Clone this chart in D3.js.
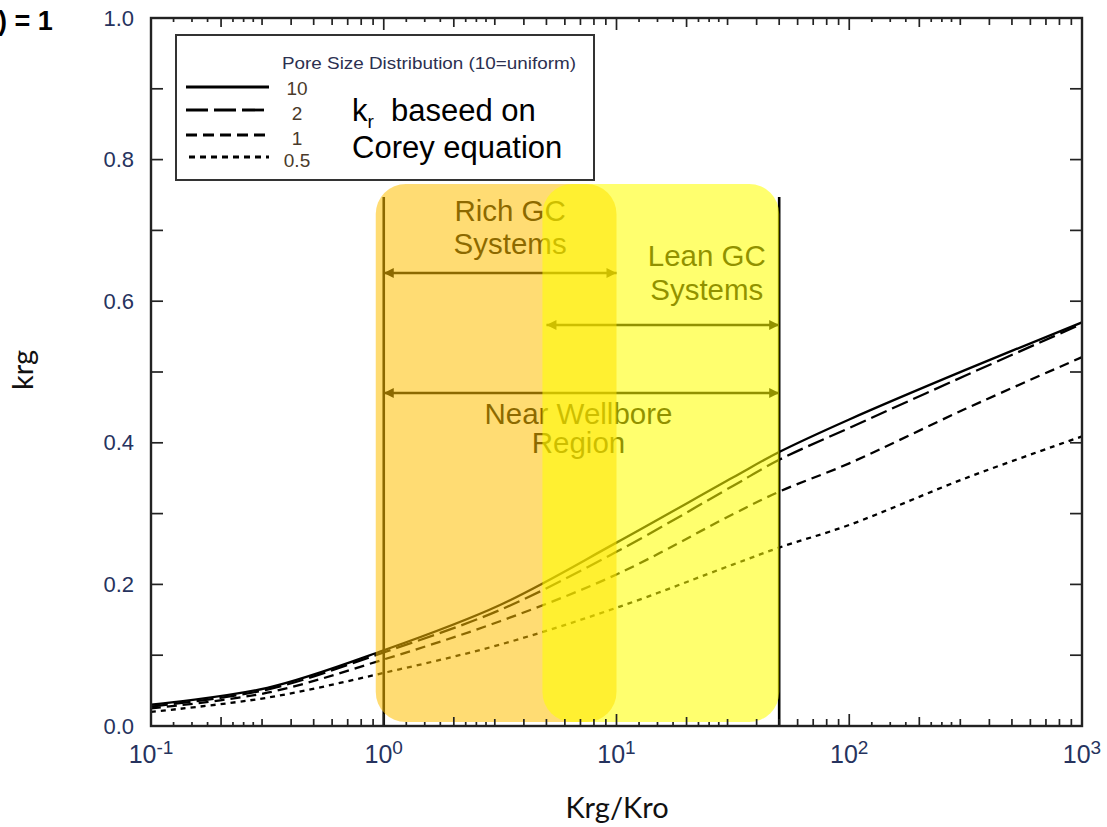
<!DOCTYPE html>
<html>
<head>
<meta charset="utf-8">
<script src="https://cdn.jsdelivr.net/npm/d3@7"></script>
<style>
  html, body { margin: 0; padding: 0; background: #fff; }
  svg { display: block; }
</style>
</head>
<body>
<svg id="chart" width="1107" height="827"></svg>
<script>
// ---- data ----
const ratio = [0.1, 0.316, 1, 3.16, 10, 31.6, 50, 100, 316, 1000];
const krgPsd10 = [0.030, 0.054, 0.107, 0.171, 0.259, 0.351, 0.387, 0.433, 0.503, 0.570];
const krgPsd2 = [0.0275, 0.0515, 0.104, 0.164, 0.246, 0.339, 0.376, 0.421, 0.495, 0.568];
const krgPsd1 = [0.025, 0.047, 0.094, 0.148, 0.214, 0.299, 0.331, 0.371, 0.448, 0.521];
const krgPsd05 = [0.020, 0.040, 0.075, 0.115, 0.167, 0.228, 0.252, 0.284, 0.350, 0.409];
const seriesNames = ["10", "2", "1", "0.5"];
const xTickExponents = [-1, 0, 1, 2, 3];
const yTickLabels = [0.0, 0.2, 0.4, 0.6, 0.8, 1.0];
const richRange = [1, 10];
const leanRange = [5, 50];
const nearRange = [1, 50];

const svg = d3.select("#chart");
const L = 151, R = 1082, T = 18, B = 726;
const x = d3.scaleLog().domain([0.1, 1000]).range([L, R]);
const y = d3.scaleLinear().domain([0, 1]).range([B, T]);

const series = [
  { name: seriesNames[0], values: krgPsd10, dash: null, legDash: null },
  { name: seriesNames[1], values: krgPsd2, dash: "17,6", legDash: "22,6" },
  { name: seriesNames[2], values: krgPsd1, dash: "10,6", legDash: "11,6" },
  { name: seriesNames[3], values: krgPsd05, dash: "5,5", legDash: "6,5" }
];

// ---- curves ----
const line = d3.line()
  .x(d => x(d[0]))
  .y(d => y(d[1]))
  .curve(d3.curveCatmullRom.alpha(0.5));

const gCurves = svg.append("g");
series.forEach(s => {
  gCurves.append("path")
    .datum(ratio.map((r, i) => [r, s.values[i]]))
    .attr("d", line)
    .attr("fill", "none")
    .attr("stroke", "#000")
    .attr("stroke-width", 2.3)
    .attr("stroke-dasharray", s.dash);
});

// ---- region annotations (drawn in black, tinted by the boxes above) ----
const defs = svg.append("defs");
defs.append("marker")
  .attr("id", "head")
  .attr("viewBox", "0 0 10 10")
  .attr("refX", 10).attr("refY", 5)
  .attr("markerWidth", 13).attr("markerHeight", 10)
  .attr("markerUnits", "userSpaceOnUse")
  .attr("orient", "auto-start-reverse")
  .append("path").attr("d", "M0,0 L10,5 L0,10 Z").attr("fill", "#000");

const gAnn = svg.append("g");
[nearRange[0], nearRange[1]].forEach(v => {
  gAnn.append("line")
    .attr("x1", x(v)).attr("x2", x(v))
    .attr("y1", 197).attr("y2", B)
    .attr("stroke", "#000").attr("stroke-width", 2.6);
});

function arrow(range, yy) {
  gAnn.append("line")
    .attr("x1", x(range[0])).attr("x2", x(range[1]))
    .attr("y1", yy).attr("y2", yy)
    .attr("stroke", "#000").attr("stroke-width", 2.6)
    .attr("marker-start", "url(#head)")
    .attr("marker-end", "url(#head)");
}
arrow(richRange, 273);
arrow(leanRange, 325);
arrow(nearRange, 393);

const annFont = "Liberation Sans, Arial, sans-serif";
function label(lines, cx, y0, dy) {
  lines.forEach((t, i) => {
    gAnn.append("text")
      .attr("x", cx).attr("y", y0 + i * dy)
      .attr("text-anchor", "middle")
      .attr("font-family", annFont)
      .attr("font-size", 29.5)
      .attr("fill", "#000")
      .text(t);
  });
}
const midLog = r => Math.sqrt(r[0] * r[1]);
label(["Rich GC", "Systems"], x(midLog(richRange)) + 10, 221, 33);
label(["Lean GC", "Systems"], x(midLog(leanRange)) + 44, 266, 34);
label(["Near Wellbore", "Region"], x(midLog(nearRange)) - 3, 424, 29);

// ---- translucent region boxes ----
const boxTop = 184, boxBottom = 722, boxR = 30;
svg.append("rect")
  .attr("x", x(richRange[0]) - 8).attr("y", boxTop)
  .attr("width", x(richRange[1]) - x(richRange[0]) + 8)
  .attr("height", boxBottom - boxTop)
  .attr("rx", boxR).attr("ry", boxR)
  .attr("fill", "#FFC000").attr("fill-opacity", 0.55);
svg.append("rect")
  .attr("x", x(leanRange[0]) - 4).attr("y", boxTop)
  .attr("width", x(leanRange[1]) - x(leanRange[0]) + 4)
  .attr("height", boxBottom - boxTop)
  .attr("rx", boxR).attr("ry", boxR)
  .attr("fill", "#FFFF00").attr("fill-opacity", 0.57);

// ---- axes frame and ticks ----
const gAx = svg.append("g");
gAx.append("rect")
  .attr("x", L).attr("y", T).attr("width", R - L).attr("height", B - T)
  .attr("fill", "none").attr("stroke", "#222").attr("stroke-width", 2.4);

// log ticks: decades long, integer multiples medium, quarter steps short
const xTicks = [];
for (let e = -1; e < 3; e++) {
  const base = Math.pow(10, e);
  xTicks.push({ v: base, len: 12 });
  [1.25, 1.5, 1.75, 2.25, 2.5, 2.75].forEach(k => xTicks.push({ v: k * base, len: 4 }));
  for (let k = 2; k <= 9; k++) xTicks.push({ v: k * base, len: k === 2 ? 9 : 7 });
}
xTicks.forEach(t => {
  const px = x(t.v);
  gAx.append("line").attr("x1", px).attr("x2", px)
    .attr("y1", B).attr("y2", B - t.len)
    .attr("stroke", "#222").attr("stroke-width", 1.7);
  gAx.append("line").attr("x1", px).attr("x2", px)
    .attr("y1", T).attr("y2", T + t.len)
    .attr("stroke", "#222").attr("stroke-width", 1.7);
});
d3.range(1, 10).forEach(i => {
  const py = y(i / 10);
  gAx.append("line").attr("x1", L).attr("x2", L + 12)
    .attr("y1", py).attr("y2", py).attr("stroke", "#222").attr("stroke-width", 1.7);
  gAx.append("line").attr("x1", R).attr("x2", R - 12)
    .attr("y1", py).attr("y2", py).attr("stroke", "#222").attr("stroke-width", 1.7);
});

const tickColor = "#26335e";
const tickFont = "Liberation Sans, Arial, sans-serif";
yTickLabels.forEach(v => {
  gAx.append("text")
    .attr("x", 134).attr("y", y(v) + 7.5)
    .attr("text-anchor", "end")
    .attr("font-family", tickFont).attr("font-size", 22)
    .attr("fill", tickColor)
    .text(v.toFixed(1));
});
xTickExponents.forEach(e => {
  const t = gAx.append("text")
    .attr("x", x(Math.pow(10, e))).attr("y", 763)
    .attr("text-anchor", "middle")
    .attr("font-family", tickFont).attr("font-size", 25)
    .attr("fill", tickColor);
  t.append("tspan").text("10");
  t.append("tspan").attr("dy", -9).attr("font-size", 19).text(e);
});

// axis titles
svg.append("text")
  .attr("x", 617).attr("y", 818)
  .attr("text-anchor", "middle")
  .attr("font-family", "Lato, Open Sans, sans-serif")
  .attr("font-size", 29).attr("fill", "#111")
  .text("Krg/Kro");
svg.append("text")
  .attr("transform", "translate(33,370) rotate(-90)")
  .attr("text-anchor", "middle")
  .attr("font-family", "Lato, Open Sans, sans-serif")
  .attr("font-size", 29).attr("fill", "#111")
  .text("krg");

svg.append("text")
  .attr("x", -2).attr("y", 30)
  .attr("font-family", "Liberation Sans, Arial, sans-serif")
  .attr("font-weight", "bold")
  .attr("font-size", 27).attr("fill", "#000")
  .attr("xml:space", "preserve")
  .text(") = 1");

// ---- legend ----
const gLeg = svg.append("g");
gLeg.append("rect")
  .attr("x", 176).attr("y", 35).attr("width", 418).attr("height", 145)
  .attr("fill", "#fff").attr("stroke", "#333").attr("stroke-width", 2);
gLeg.append("text")
  .attr("x", 282).attr("y", 69)
  .attr("font-family", tickFont).attr("font-size", 17)
  .attr("fill", "#2c3050")
  .attr("textLength", 294)
  .attr("lengthAdjust", "spacingAndGlyphs")
  .text("Pore Size Distribution (10=uniform)");
const legY = [87, 110, 135, 157];
const legTextY = [95, 120, 145, 167];
series.forEach((s, i) => {
  gLeg.append("line")
    .attr("x1", i === 3 ? 189 : 186).attr("x2", 269)
    .attr("y1", legY[i]).attr("y2", legY[i])
    .attr("stroke", "#000").attr("stroke-width", 2.8)
    .attr("stroke-dasharray", s.legDash);
  gLeg.append("text")
    .attr("x", 297).attr("y", legTextY[i])
    .attr("text-anchor", "middle")
    .attr("font-family", tickFont).attr("font-size", 19)
    .attr("fill", "#4a3a2a")
    .text(s.name);
});
const note = gLeg.append("text")
  .attr("x", 352).attr("y", 121)
  .attr("font-family", tickFont).attr("font-size", 31)
  .attr("fill", "#000");
note.append("tspan").text("k");
note.append("tspan").attr("dy", 7).attr("font-size", 19).text("r");
note.append("tspan").attr("dy", -7).attr("xml:space", "preserve").text("  baseed on");
gLeg.append("text")
  .attr("x", 352).attr("y", 158)
  .attr("font-family", tickFont).attr("font-size", 31)
  .attr("fill", "#000")
  .text("Corey equation");
</script>
</body>
</html>
